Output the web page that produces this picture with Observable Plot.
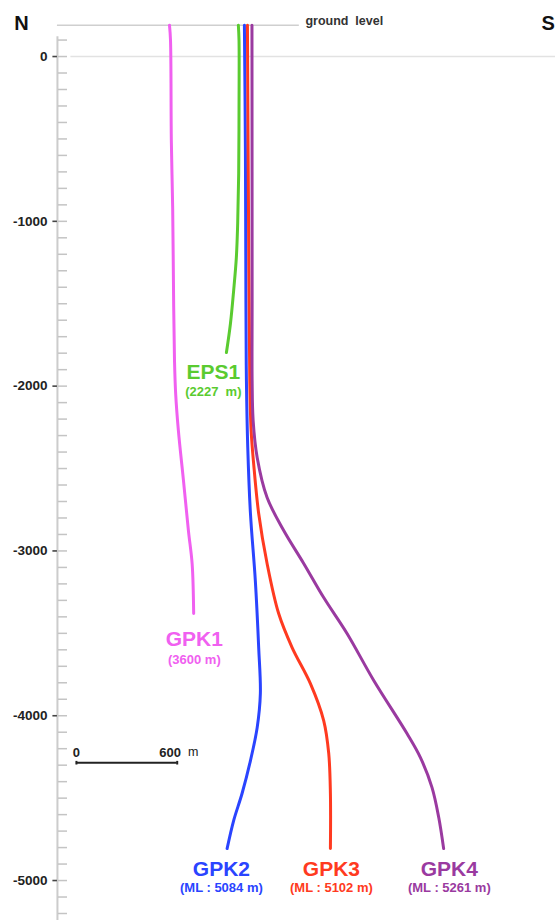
<!DOCTYPE html>
<html>
<head>
<meta charset="utf-8">
<script src="https://cdn.jsdelivr.net/npm/d3@7"></script>
<script src="https://cdn.jsdelivr.net/npm/@observablehq/plot@0.6"></script>
<style>
  html, body { margin: 0; padding: 0; background: #fff; }
  svg text { white-space: pre; }
</style>
</head>
<body>
<div id="chart"></div>
<script>
// ---- data (horizontal offset in m from GPK2 wellhead, positive = south; elevation in m) ----
const wells = ["GPK1", "EPS1", "GPK2", "GPK3", "GPK4"];
const wellColors = ["#f060f0", "#5acb30", "#2a44ff", "#ff3a20", "#9a3aa0"];

const gpk1X = [-446, -440, -435, -427, -421, -416, -409, -393, -363, -333, -311, -302];
const gpk1Z = [190, 100, -510, -920, -1520, -1850, -2050, -2270, -2570, -2880, -3080, -3380];

const eps1X = [-36, -32, -32, -34, -40, -48, -64, -83, -107];
const eps1Z = [190, 97, -309, -710, -1013, -1220, -1420, -1620, -1796];

const gpk2X = [0, 6, 9, 12, 20, 36, 65, 85, 95, 76, 36, -14, -64, -103];
const gpk2Z = [190, -570, -1480, -1966, -2373, -2773, -3180, -3586, -3865, -4072, -4272, -4472, -4636, -4806];

const gpk3X = [18, 24, 32, 40, 55, 85, 135, 204, 284, 393, 472, 502, 512, 512];
const gpk3Z = [190, -874, -1966, -2269, -2470, -2773, -3076, -3380, -3586, -3805, -4029, -4229, -4472, -4806];

const gpk4X = [45, 46, 46, 52, 76, 135, 234, 353, 472, 611, 770, 968, 1048, 1117, 1157, 1186];
const gpk4Z = [190, -1480, -1966, -2209, -2433, -2676, -2876, -3076, -3283, -3501, -3786, -4108, -4254, -4436, -4618, -4806];

const wellNames = ["GPK1", "EPS1", "GPK2", "GPK3", "GPK4"];
const wellLengths = ["(3600 m)", "(2227  m)", "(ML : 5084 m)", "(ML : 5102 m)", "(ML : 5261 m)"];

const majorTicks = [0, -1000, -2000, -3000, -4000, -5000];
const groundLevel = 190;
const scaleBarLength = 600;

// ---- layout helpers (annotation placement, in data units) ----
const axisX = -1113;
const labelX = [-298, -185, -137, 518, 1220];
const nameZ = [-3538, -1914, -4930, -4930, -4930];
const subZ = [-3659, -2033, -5045, -5045, -5045];
const barX0 = -1000, barZ = -4285;

const xs = [gpk1X, eps1X, gpk2X, gpk3X, gpk4X];
const zs = [gpk1Z, eps1Z, gpk2Z, gpk3Z, gpk4Z];
const traj = wells.flatMap((w, i) => xs[i].map((x, j) => ({well: w, x, z: zs[i][j]})));
const labels = wellNames.map((n, i) => ({well: wells[i], name: n, sub: wellLengths[i], x: labelX[i], zn: nameZ[i], zs: subZ[i]}));
const minorTicks = d3.range(100, -5400, -100);
const font = "'Liberation Sans', Arial, Helvetica, sans-serif";

const chart = Plot.plot({
  width: 555,
  height: 920,
  marginTop: 0,
  marginBottom: 7,
  marginLeft: 0,
  marginRight: 0,
  style: {fontFamily: font, background: "#fff", overflow: "visible"},
  x: {domain: [-1452, 1852], axis: null},
  y: {domain: [-5200, 340], axis: null},
  color: {domain: wells, range: wellColors},
  marks: [
    // zero line and ground level
    Plot.ruleY([0], {x1: axisX + 80, x2: 1852, stroke: "#e2e2e2", strokeWidth: 1.5}),
    Plot.ruleY([groundLevel], {x1: axisX, x2: 327, stroke: "#cfcfcf", strokeWidth: 1.5}),
    Plot.text(["ground  level"], {x: 363, y: 214, text: d => d, textAnchor: "start", fontSize: 12.5, fontWeight: "bold", fill: "#333"}),
    // N / S
    Plot.text(["N"], {x: -1327, y: 200, text: d => d, fontSize: 20, fontWeight: "bold", fill: "#111"}),
    Plot.text(["S"], {x: 1768, y: 200, text: d => d, textAnchor: "start", fontSize: 20, fontWeight: "bold", fill: "#111"}),
    // depth axis
    Plot.ruleX([axisX], {y1: 120, y2: -5400, stroke: "#cccccc", strokeWidth: 2}),
    Plot.ruleY(minorTicks, {x1: axisX + 6, x2: axisX + 60, stroke: "#c4c4c4", strokeWidth: 1.5}),
    Plot.ruleY(majorTicks, {x1: axisX - 27, x2: axisX, stroke: "#444", strokeWidth: 1.6}),
    Plot.text(majorTicks, {x: axisX, y: d => d, text: d => String(d), textAnchor: "end", dx: -10, fontSize: 13.5, fontWeight: "bold", fill: "#222"}),
    // scale bar
    Plot.ruleY([barZ], {x1: barX0, x2: barX0 + scaleBarLength, stroke: "#222", strokeWidth: 2}),
    Plot.ruleX([barX0, barX0 + scaleBarLength], {y1: barZ + 8, y2: barZ - 14, stroke: "#222", strokeWidth: 2}),
    Plot.text([0], {x: d => barX0 + d, y: barZ + 62, text: d => String(d), fontSize: 13, fontWeight: "bold", fill: "#222"}),
    Plot.text([scaleBarLength], {x: d => barX0 + d, y: barZ + 62, text: d => String(d), dx: -7, fontSize: 13, fontWeight: "bold", fill: "#222"}),
    Plot.text(["m"], {x: barX0 + scaleBarLength, y: barZ + 62, text: d => d, dx: 16, fontSize: 12.5, fill: "#222"}),
    // well trajectories
    Plot.line(traj, {x: "x", y: "z", z: "well", stroke: "well", strokeWidth: 3, curve: "catmull-rom"}),
    // well labels
    Plot.text(labels, {x: "x", y: "zn", text: "name", fill: "well", fontSize: 21, fontWeight: "bold"}),
    Plot.text(labels, {x: "x", y: "zs", text: "sub", fill: "well", fontSize: 13, fontWeight: "bold"})
  ]
});
document.getElementById("chart").append(chart);
</script>
</body>
</html>
